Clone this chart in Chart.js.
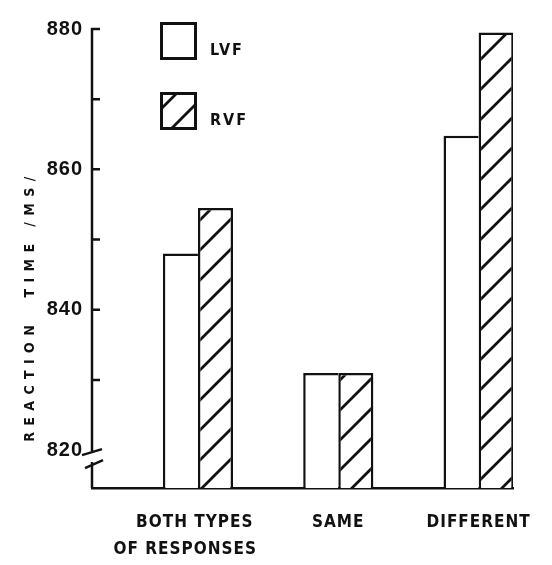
<!DOCTYPE html>
<html>
<head>
<meta charset="utf-8">
<script src="https://cdn.jsdelivr.net/npm/chart.js@4.4.1/dist/chart.umd.min.js"></script>
<style>
  html,body{margin:0;padding:0;background:#fff;}
  #wrap{width:552px;height:565px;}
</style>
</head>
<body>
<div id="wrap"><canvas id="chart" width="552" height="565"></canvas></div>
<script>
/* ---------- Data ---------- */
const CATEGORIES   = [["BOTH TYPES ", "OF RESPONSES    "], "SAME", "DIFFERENT"];
const SERIES_NAMES = ["LVF", "RVF"];
const LVF_VALUES   = [848, 831, 864.8];
const RVF_VALUES   = [854.5, 831, 879.5];
const Y_TICKS      = [820, 830, 840, 850, 860, 870, 880];
const Y_LABELED    = [820, 840, 860, 880];
const Y_TITLE      = "\u2003\u2003\u2003 R E A C T I O N     T I M E   / M S /";

/* ---------- Look ---------- */
const INK = "#111";
const Y_MIN = 814.6, Y_MAX = 880;
const Y_BREAK = 819;          // value where the axis break is drawn
const GROUP_SHIFT = 0.755;    // groups sit in the right half of each slot
const SANS = "'Liberation Sans', Arial, sans-serif";
const COND = "'DejaVu Sans Condensed', 'DejaVu Sans', sans-serif";

const canvas = document.getElementById("chart");

function hatchPattern(){
  const s = 30, c = document.createElement("canvas");
  c.width = s; c.height = s;
  const g = c.getContext("2d");
  g.fillStyle = "#fff"; g.fillRect(0,0,s,s);
  g.strokeStyle = INK; g.lineWidth = 2.8;
  g.beginPath();
  g.moveTo(-3, s+3); g.lineTo(s+3, -3);
  g.moveTo(-3, 3);   g.lineTo(3, -3);
  g.moveTo(s-3, s+3); g.lineTo(s+3, s-3);
  g.stroke();
  return canvas.getContext("2d").createPattern(c, "repeat");
}

const toPoints = vals => vals.map((v,i)=>({x:i+GROUP_SHIFT, y:v}));

/* axis line with break, inward tick marks */
const axisArt = {
  id:"axisArt",
  beforeDraw(chart){ chart.ctx.letterSpacing = "1px"; },
  afterDraw(chart){
    const {ctx, chartArea:a, scales:{y}} = chart;
    const x0 = a.left, yb = y.getPixelForValue(Y_BREAK);
    ctx.save();
    ctx.strokeStyle = INK; ctx.lineWidth = 2.5;
    ctx.beginPath();
    ctx.moveTo(x0, a.top-1); ctx.lineTo(x0, yb-5);
    ctx.moveTo(x0, yb+5);    ctx.lineTo(x0, a.bottom);
    y.ticks.forEach(t=>{
      if(t.value <= Y_TICKS[0]) return;
      const py = y.getPixelForValue(t.value);
      ctx.moveTo(x0-1, py); ctx.lineTo(x0+8, py);
    });
    ctx.moveTo(x0-10, yb-2); ctx.lineTo(x0+10, yb-8);
    ctx.moveTo(x0-7, yb+11); ctx.lineTo(x0+11, yb+3);
    ctx.stroke();
    ctx.restore();
  }
};

/* legend: big boxes stacked in the upper left of the plot */
const legendBoxes = {
  id:"legendBoxes",
  afterDraw(chart){
    const {ctx, chartArea:a} = chart;
    const bx = a.left + 68, w = 37, h = 38;
    chart.data.datasets.forEach((ds,i)=>{
      const by = a.top - 7 + i*70;
      ctx.save();
      ctx.fillStyle = ds.backgroundColor; ctx.fillRect(bx, by, w, h);
      ctx.strokeStyle = INK; ctx.lineWidth = 3;
      ctx.strokeRect(bx+1.5, by+1.5, w-3, h-3);
      ctx.fillStyle = INK; ctx.font = `bold 16px ${COND}`;
      ctx.letterSpacing = "2px"; ctx.textBaseline = "middle";
      ctx.fillText(ds.label, bx + w + 13, by + h/2 + 10);
      ctx.restore();
    });
  }
};

new Chart(canvas, {
  type:"bar",
  data:{
    datasets:[
      {label:SERIES_NAMES[0], data:toPoints(LVF_VALUES), backgroundColor:"#fff",
       borderColor:INK, borderWidth:{top:2.5,left:2.5,right:0,bottom:0},
       categoryPercentage:0.5, barPercentage:1},
      {label:SERIES_NAMES[1], data:toPoints(RVF_VALUES), backgroundColor:hatchPattern(),
       borderColor:INK, borderWidth:{top:2.5,left:2.5,right:2.5,bottom:0},
       categoryPercentage:0.5, barPercentage:1}
    ]
  },
  options:{
    responsive:false, animation:false,
    layout:{padding:{top:29, right:39, left:0, bottom:0}},
    plugins:{legend:{display:false}, tooltip:{enabled:false}},
    scales:{
      x:{
        type:"linear", min:0, max:CATEGORIES.length, offset:false,
        afterBuildTicks: s => { s.ticks = CATEGORIES.map((c,i)=>({value:i+GROUP_SHIFT})); },
        afterFit: s => { s.height = 77; },
        grid:{display:false, drawTicks:false},
        border:{display:true, color:INK, width:2.5},
        ticks:{autoSkip:false, maxRotation:0, padding:21, color:INK,
               font:{family:COND, size:17, weight:"bold", lineHeight:1.6},
               callback:(v,i)=>CATEGORIES[i]}
      },
      y:{
        min:Y_MIN, max:Y_MAX,
        afterBuildTicks: s => { s.ticks = Y_TICKS.map(v=>({value:v})); },
        afterFit: s => { s.width = 92; },
        grid:{display:false, drawTicks:false},
        border:{display:false},
        ticks:{padding:9, color:INK, font:{family:SANS, size:20, weight:"bold"},
               callback: v => Y_LABELED.includes(v) ? String(v) : ""},
        title:{display:true, text:Y_TITLE, align:"start", color:INK,
               font:{family:COND, size:14, weight:"bold"}, padding:{top:22, bottom:0}}
      }
    }
  },
  plugins:[axisArt, legendBoxes]
});
</script>
</body>
</html>
